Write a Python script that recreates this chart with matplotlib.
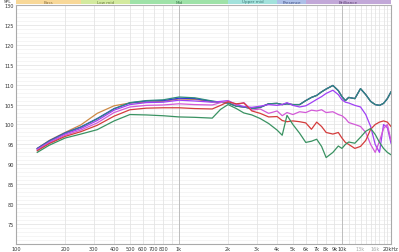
import matplotlib.pyplot as plt
from matplotlib.ticker import FixedLocator, NullFormatter

# frequency points (Hz)
freqs = [135, 160, 200, 250, 315, 400, 500, 630, 800, 1000, 1250, 1600, 1800, 2000,
         2250, 2500, 2800, 3150, 3550, 4000, 4300, 4600, 5000, 5500, 6000, 6500,
         7000, 7500, 8000, 8800, 9500, 10000, 10500, 11000, 12000, 13000, 14000,
         15000, 16000, 17000, 18000, 19000, 20000]

# orange / blue / teal share the top from 1.8k up
upper_shared = [105.6, 105.4, 104.6, 104.4, 104.0, 104.3, 105.2, 105.3, 105.0, 105.2,
                105.0, 105.0, 106.0, 106.8, 107.3, 108.2, 108.9, 109.8, 108.5, 107.0,
                106.0, 106.8, 106.5, 109.0, 107.5, 105.8, 105.0, 104.8, 105.3, 106.5,
                108.2]
orange_low = [94.0, 96.0, 98.0, 99.9, 102.8, 104.7, 105.4, 105.6, 105.8, 106.4, 106.3, 105.7]
blue_low = [94.0, 95.9, 97.9, 99.4, 101.5, 104.0, 105.4, 105.9, 106.0, 106.6, 106.5, 105.8]
teal_low = [93.9, 95.8, 97.8, 99.3, 101.4, 103.9, 105.5, 106.0, 106.2, 106.9, 106.7, 105.9]

purple = [93.8, 95.6, 97.6, 99.0, 101.0, 103.6, 105.0, 105.5, 105.6, 106.1, 105.9, 105.6,
          105.8, 106.0, 105.0, 104.5, 104.3, 104.6, 105.0, 104.8, 105.0, 105.5, 104.8,
          104.4, 104.7, 105.5, 106.3, 107.0, 107.8, 108.6, 107.5, 106.2, 105.6, 105.4,
          104.8, 104.4, 102.5, 99.5, 95.0, 93.0, 100.0, 99.2, 95.3]
pink = [93.6, 95.4, 97.3, 98.6, 100.4, 103.0, 104.4, 104.8, 104.9, 105.2, 105.0, 104.9,
        105.5, 105.9, 104.9, 105.5, 103.6, 103.9, 102.8, 103.4, 102.2, 103.0, 102.5,
        103.2, 103.0, 103.6, 103.4, 103.7, 103.0, 103.2, 102.5, 102.2, 101.5, 100.5,
        100.0, 99.5, 98.0, 95.0, 93.0, 95.8, 99.0, 100.0, 96.0]
red = [93.4, 95.2, 97.0, 98.2, 99.8, 102.1, 103.7, 104.1, 104.2, 104.2, 104.0, 103.9,
       104.8, 105.7, 105.2, 105.4, 103.4, 102.8, 101.9, 102.0, 101.0, 100.7, 100.9,
       100.7, 100.4, 98.8, 100.6, 99.5, 98.0, 97.6, 98.0, 96.6, 95.5, 95.0, 94.0,
       94.5, 96.0, 98.8, 100.0, 100.6, 100.9, 100.6, 99.5]
green = [93.0, 94.8, 96.6, 97.6, 98.7, 100.9, 102.5, 102.4, 102.2, 101.9, 101.8, 101.6,
         103.8, 105.0, 104.0, 102.9, 102.4, 101.5, 100.25, 98.6, 97.3, 102.3, 100.0,
         97.8, 95.5, 95.8, 96.3, 94.5, 91.7, 93.0, 94.6, 94.0, 95.0, 95.6, 95.3, 96.8,
         98.3, 99.0, 97.5, 95.5, 94.0, 93.0, 92.4]

curves = [
    (orange_low + upper_shared, '#cd8a45'),
    (blue_low + upper_shared, '#3535e0'),
    (teal_low + upper_shared, '#2f8c7c'),
    (purple, '#a040f5'),
    (pink, '#d35ad8'),
    (red, '#d43c3c'),
    (green, '#3a9262'),
]

bands = [('Bass', 100, 250, '#f8d898', '#8a7040'),
         ('Low mid', 250, 500, '#d3ea9e', '#6a7a40'),
         ('Mid', 500, 2000, '#9ee2a8', '#407a50'),
         ('Upper mid', 2000, 4000, '#a2e2dc', '#407a78'),
         ('Presence', 4000, 6000, '#adc0e8', '#404f80'),
         ('Brilliance', 6000, 20000, '#c2a8d8', '#5a4070')]

xtick_vals = [100, 200, 300, 400, 500, 600, 700, 800, 1000, 2000, 3000, 4000, 5000,
              6000, 7000, 8000, 9000, 10000, 13000, 16000, 20000]
xtick_labels = ['100', '200', '300', '400', '500', '600', '700', '800', '1k', '2k', '3k',
                '4k', '5k', '6k', '7k', '8k', '9k', '10k', '13k', '16k', '20kHz']
ytick_vals = [75, 80, 85, 90, 95, 100, 105, 110, 115, 120, 125, 130]

fig = plt.figure(figsize=(3.99, 2.53), dpi=100)
ax = fig.add_axes([16/399, 8/253, 375/399, 239/253])
ax.set_xscale('log')
ax.set_xlim(100, 20000)
ax.set_ylim(70, 130)

# grid
for db in range(71, 130):
    ax.axhline(db, color='#f2f2f2' if db % 5 else '#e0e0e0', lw=0.5, zorder=0)
minor_x = list(range(200, 1000, 100)) + list(range(2000, 10000, 1000)) + list(range(11000, 20000, 1000))
for f in minor_x:
    ax.axvline(f, color='#e4e4e4', lw=0.6, zorder=0)
for f in [1000, 10000]:
    ax.axvline(f, color='#bdbdbd', lw=0.7, zorder=0)

for vals, col in curves:
    ax.plot(freqs, vals, color=col, lw=0.9, zorder=3)

ax.xaxis.set_major_locator(FixedLocator(xtick_vals))
ax.xaxis.set_minor_formatter(NullFormatter())
ax.set_xticks(xtick_vals)
ax.set_xticklabels(xtick_labels)
ax.minorticks_off()
ax.set_yticks(ytick_vals)
ax.tick_params(axis='both', length=0, labelsize=3.6, colors='#333333', pad=1.5)
for lab in ax.get_xticklabels():
    if lab.get_text() in ('13k', '16k'):
        lab.set_color('#aaaaaa')
for s in ['top']:
    ax.spines[s].set_visible(False)
for s in ['left', 'bottom', 'right']:
    ax.spines[s].set_color('#aaaaaa')
    ax.spines[s].set_linewidth(0.8)

# frequency band header
hax = fig.add_axes([16/399, 1 - 5/253, 375/399, 5/253])
hax.set_xscale('log')
hax.set_xlim(100, 20000)
hax.set_ylim(0, 1)
for name, lo, hi, fc, tc in bands:
    hax.axvspan(lo, hi, color=fc, lw=0)
    hax.text((lo * hi) ** 0.5, 0.5, name, ha='center', va='center', fontsize=3, color=tc)
hax.axis('off')
fig.add_artist(plt.Line2D([16/399, 391/399], [1 - 5.5/253, 1 - 5.5/253], color='#b0b0b0', lw=0.8))

fig.text(8/399, 1 - 2/253, 'SPL', fontsize=3.2, color='#333333', ha='center', va='center')

fig.savefig('out.png', dpi=100)
